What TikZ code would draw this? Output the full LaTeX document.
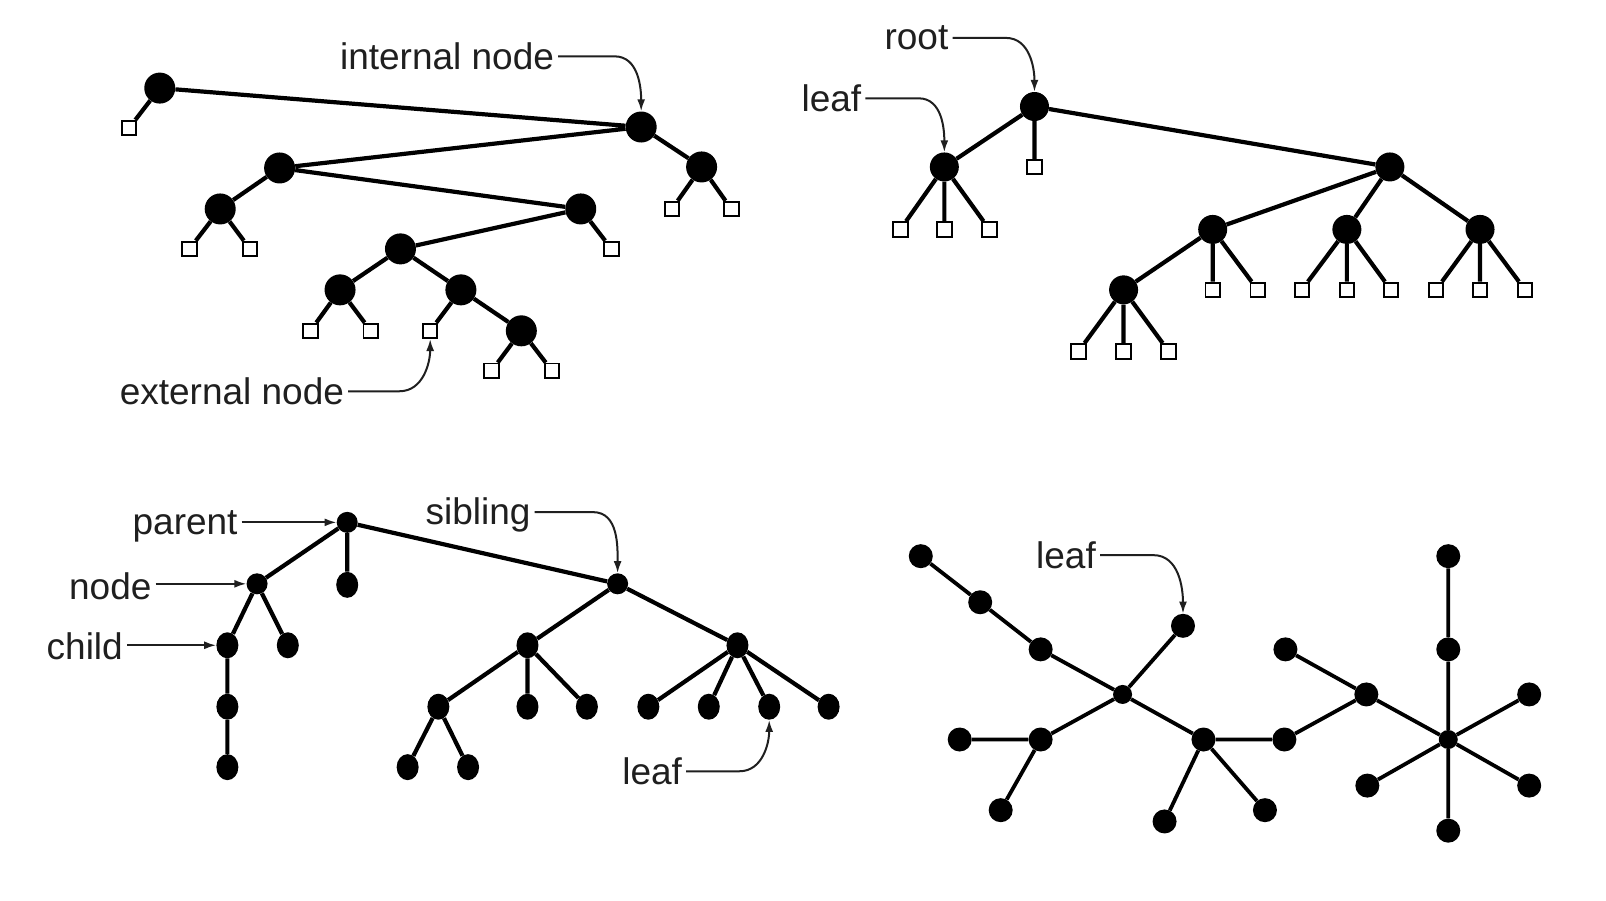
\documentclass[tikz,border=0pt]{standalone}
\usepackage{fontspec}
\setmainfont{Liberation Sans}
\usetikzlibrary{arrows.meta,shapes.geometric}
\begin{document}
\begin{tikzpicture}[x=1.0242pt,y=-1.0242pt,
  big/.style={circle,fill=black,inner sep=0pt,minimum size=31pt},
  mid/.style={circle,fill=black,inner sep=0pt,minimum size=29pt},
  ext/.style={rectangle,draw=black,fill=white,line width=1.9pt,inner sep=0pt,minimum size=14.5pt},
  dot/.style={ellipse,fill=black,inner sep=0pt,minimum width=22pt,minimum height=26pt},
  sdot/.style={circle,fill=black,inner sep=0pt,minimum size=21pt},
  fdot/.style={circle,fill=black,inner sep=0pt,minimum size=24pt},
  hub/.style={circle,fill=black,inner sep=0pt,minimum size=19pt},
  edge/.style={line width=4.2pt,black},
  fedge/.style={line width=3.8pt,black},
  lbl/.style={font=\fontsize{37}{40}\selectfont,text=black!88,inner ysep=0pt,inner xsep=4pt},
  ptr/.style={line width=2pt,black!88,-{Latex[length=12pt,width=8pt]}}
]
\useasboundingbox[fill=white] (0,0) rectangle (1568,879);

% ---------- top-left binary tree ----------
\node[big] (t1) at (156,86) {};
\node[ext] (t1a) at (126,125) {};
\node[big] (tI) at (626,124) {};
\node[big] (tR) at (685,163) {};
\node[ext] (tRa) at (656,204) {};
\node[ext] (tRb) at (714,204) {};
\node[big] (t2) at (273,164) {};
\node[big] (t2L) at (215,204) {};
\node[ext] (t2La) at (185,243) {};
\node[ext] (t2Lb) at (244,243) {};
\node[big] (t3) at (567,204) {};
\node[ext] (t3a) at (597,243) {};
\node[big] (t4) at (391,243) {};
\node[big] (t4L) at (332,283) {};
\node[ext] (t4La) at (303,323) {};
\node[ext] (t4Lb) at (362,323) {};
\node[big] (t4R) at (450,283) {};
\node[ext] (t4Ra) at (420,323) {};
\node[big] (t5) at (509,323) {};
\node[ext] (t5a) at (480,362) {};
\node[ext] (t5b) at (539,362) {};
\draw[edge] (t1)--(t1a) (t1)--(tI) (tI)--(t2) (tI)--(tR) (tR)--(tRa) (tR)--(tRb)
  (t2)--(t2L) (t2)--(t3) (t2L)--(t2La) (t2L)--(t2Lb) (t3)--(t4) (t3)--(t3a)
  (t4)--(t4L) (t4)--(t4R) (t4L)--(t4La) (t4L)--(t4Lb) (t4R)--(t4Ra) (t4R)--(t5)
  (t5)--(t5a) (t5)--(t5b);
\node[lbl,anchor=east] (Lint) at (545,55) {internal node};
\draw[ptr] (Lint.east) -- +(55,0) to[out=0,in=90] (tI);
\node[lbl,anchor=east] (Lext) at (340,382) {external node};
\draw[ptr] (Lext.east) -- +(50,0) to[out=0,in=-90] (t4Ra);

% ---------- top-right ternary tree ----------
\node[mid] (r) at (1010,104) {};
\node[ext] (ra) at (1010,163) {};
\node[mid] (rl) at (922,163) {};
\node[ext] (rla) at (879,224) {};
\node[ext] (rlb) at (922,224) {};
\node[ext] (rlc) at (966,224) {};
\node[mid] (r2) at (1357,163) {};
\node[mid] (rA) at (1184,224) {};
\node[mid] (rB) at (1315,224) {};
\node[mid] (rC) at (1445,224) {};
\node[mid] (rD) at (1097,283) {};
\node[ext] (rAb) at (1184,283) {};
\node[ext] (rAc) at (1228,283) {};
\node[ext] (rBa) at (1271,283) {};
\node[ext] (rBb) at (1315,283) {};
\node[ext] (rBc) at (1358,283) {};
\node[ext] (rCa) at (1402,283) {};
\node[ext] (rCb) at (1445,283) {};
\node[ext] (rCc) at (1489,283) {};
\node[ext] (rDa) at (1053,343) {};
\node[ext] (rDb) at (1097,343) {};
\node[ext] (rDc) at (1141,343) {};
\draw[edge] (r)--(ra) (r)--(rl) (r)--(r2) (rl)--(rla) (rl)--(rlb) (rl)--(rlc)
  (r2)--(rA) (r2)--(rB) (r2)--(rC) (rA)--(rD) (rA)--(rAb) (rA)--(rAc)
  (rB)--(rBa) (rB)--(rBb) (rB)--(rBc) (rC)--(rCa) (rC)--(rCb) (rC)--(rCc)
  (rD)--(rDa) (rD)--(rDb) (rD)--(rDc);
\node[lbl,anchor=east] (Lroot) at (930,37) {root};
\draw[ptr] (Lroot.east) -- +(52,0) to[out=0,in=90] (r);
\node[lbl,anchor=east] (Lleaf1) at (845,96) {leaf};
\draw[ptr] (Lleaf1.east) -- +(52,0) to[out=0,in=90] (rl);

% ---------- bottom-left rooted tree ----------
\node[sdot] (P) at (339,510) {};
\node[sdot] (N) at (251,570) {};
\node[dot] (M) at (339,571) {};
\node[sdot] (S) at (603,570) {};
\node[dot] (C) at (222,630) {};
\node[dot] (N2) at (281,630) {};
\node[dot] (C1) at (222,690) {};
\node[dot] (C2) at (222,749) {};
\node[dot] (S1) at (515,630) {};
\node[dot] (S2) at (720,630) {};
\node[dot] (S1a) at (428,690) {};
\node[dot] (S1b) at (515,690) {};
\node[dot] (S1c) at (573,690) {};
\node[dot] (S1aa) at (398,749) {};
\node[dot] (S1ab) at (457,749) {};
\node[dot] (S2a) at (633,690) {};
\node[dot] (S2b) at (692,690) {};
\node[dot] (S2c) at (751,690) {};
\node[dot] (S2d) at (809,690) {};
\draw[edge] (P)--(N) (P)--(M) (P)--(S) (N)--(C) (N)--(N2) (C)--(C1) (C1)--(C2)
  (S)--(S1) (S)--(S2) (S1)--(S1a) (S1)--(S1b) (S1)--(S1c) (S1a)--(S1aa) (S1a)--(S1ab)
  (S2)--(S2a) (S2)--(S2b) (S2)--(S2c) (S2)--(S2d);
\node[lbl,anchor=east] (Lpar) at (236,514) {parent};
\draw[ptr] (Lpar.east |- P) -- (P);
\node[lbl,anchor=east] (Lnode) at (152,572) {node};
\draw[ptr] (Lnode.east |- N) -- (N);
\node[lbl,anchor=east] (Lchild) at (124,631) {child};
\draw[ptr] (Lchild.east |- C) -- (C);
\node[lbl,anchor=east] (Lsib) at (522,503) {sibling};
\draw[ptr] (Lsib.east |- 0,500) -- +(57,0) to[out=0,in=90] (S);
\node[lbl,anchor=east] (Lleaf2) at (670,753) {leaf};
\draw[ptr] (Lleaf2.east) -- +(52,0) to[out=0,in=-90] (S2c);

% ---------- bottom-right free tree ----------
\node[fdot] (a1) at (899,543) {};
\node[fdot] (a2) at (957,588) {};
\node[fdot] (a3) at (1016,634) {};
\node[hub] (H1) at (1096,678) {};
\node[fdot] (lf) at (1155,611) {};
\node[fdot] (b1) at (1016,722) {};
\node[fdot] (b2) at (937,722) {};
\node[fdot] (b3) at (977,791) {};
\node[fdot] (H2) at (1175,722) {};
\node[fdot] (c1) at (1137,802) {};
\node[fdot] (c2) at (1235,791) {};
\node[fdot] (c3) at (1254,722) {};
\node[fdot] (d1) at (1334,678) {};
\node[fdot] (d2) at (1255,634) {};
\node[hub] (H3) at (1414,722) {};
\node[fdot] (e1) at (1414,634) {};
\node[fdot] (e2) at (1414,543) {};
\node[fdot] (e3) at (1493,678) {};
\node[fdot] (e4) at (1335,767) {};
\node[fdot] (e5) at (1493,767) {};
\node[fdot] (e6) at (1414,811) {};
\draw[fedge] (a1)--(a2) (a2)--(a3) (a3)--(H1) (H1)--(lf) (H1)--(b1) (b1)--(b2) (b1)--(b3)
  (H1)--(H2) (H2)--(c1) (H2)--(c2) (H2)--(c3) (c3)--(d1) (d1)--(d2) (d1)--(H3)
  (H3)--(e1) (e1)--(e2) (H3)--(e3) (H3)--(e4) (H3)--(e5) (H3)--(e6);
\node[lbl,anchor=east] (Lleaf3) at (1074,542) {leaf};
\draw[ptr] (Lleaf3.east) -- +(52,0) to[out=0,in=90] (lf);
\end{tikzpicture}
\end{document}
